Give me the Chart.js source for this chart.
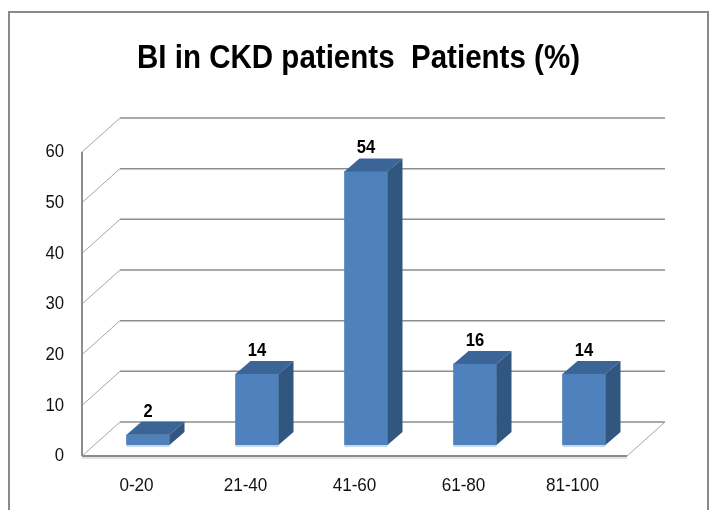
<!DOCTYPE html>
<html>
<head>
<meta charset="utf-8">
<script src="https://cdn.jsdelivr.net/npm/chart.js@4.4.0/dist/chart.umd.min.js"></script>
<style>
  html, body { margin: 0; padding: 0; background: #fff; }
  #wrap { width: 712px; height: 510px; }
</style>
</head>
<body>
<div id="wrap"><canvas id="chart" width="712" height="510"></canvas></div>
<script>
const TITLE = 'BI in CKD patients  Patients (%)';
const CATEGORIES = ['0-20', '21-40', '41-60', '61-80', '81-100'];
const PATIENTS_PCT = [2, 14, 54, 16, 14];
const Y_TICKS = [0, 10, 20, 30, 40, 50, 60];

// 3D look: front plane, back wall and bar depth as offsets from the bar plane
const FRONT = { dx: -11.5, dy: 11 };
const BACK = { dx: 26.5, dy: -23 };
const DEPTH = { dx: 15, dy: -13 };
const FONT = '"Liberation Sans", Arial, sans-serif';

function line(ctx, x1, y1, x2, y2) {
    ctx.beginPath();
    ctx.moveTo(x1, y1);
    ctx.lineTo(x2, y2);
    ctx.stroke();
}

// text squeezed horizontally, the original uses a narrow font
function text(ctx, str, x, y, sx) {
    ctx.save();
    ctx.translate(x, y);
    ctx.scale(sx, 1);
    ctx.fillText(str, 0, 0);
    ctx.restore();
}

const chart3d = {
    id: 'chart3d',
    beforeDraw(chart) {
        const ctx = chart.ctx;
        ctx.save();
        ctx.fillStyle = '#fff';
        ctx.fillRect(0, 0, chart.width, chart.height);
        ctx.strokeStyle = '#8a8a8a';
        ctx.lineWidth = 2;
        ctx.strokeRect(9, 12, 699, 600);

        // title
        ctx.font = 'bold 34px ' + FONT;
        const sx = 443 / ctx.measureText(TITLE).width;
        ctx.fillStyle = '#000';
        ctx.textAlign = 'center';
        ctx.textBaseline = 'alphabetic';
        text(ctx, TITLE, 358.5, 68, sx);
        ctx.restore();
    },
    beforeDatasetsDraw(chart) {
        const ctx = chart.ctx;
        const ca = chart.chartArea;
        const ys = chart.scales.y;
        const xs = chart.scales.x;
        const l = ca.left, r = ca.right;
        const y0 = ys.getPixelForValue(0);
        const yTop = ys.getPixelForValue(Y_TICKS[Y_TICKS.length - 1]);
        ctx.save();

        // back wall gridlines and left wall diagonals
        Y_TICKS.forEach(v => {
            const y = ys.getPixelForValue(v);
            ctx.strokeStyle = '#8c8c8c';
            ctx.lineWidth = 1.5;
            line(ctx, l + BACK.dx, y + BACK.dy, r + BACK.dx, y + BACK.dy);
            ctx.strokeStyle = '#a6a6a6';
            ctx.lineWidth = 1;
            line(ctx, l + FRONT.dx, y + FRONT.dy, l + BACK.dx, y + BACK.dy);
        });

        // floor
        ctx.strokeStyle = '#a6a6a6';
        ctx.lineWidth = 1;
        line(ctx, r + FRONT.dx, y0 + FRONT.dy, r + BACK.dx, y0 + BACK.dy);
        ctx.strokeStyle = '#c8c8c8';
        line(ctx, l + FRONT.dx, y0 + FRONT.dy + 2, r + FRONT.dx, y0 + FRONT.dy + 2);
        ctx.strokeStyle = '#8c8c8c';
        ctx.lineWidth = 2;
        line(ctx, l + FRONT.dx, y0 + FRONT.dy, r + FRONT.dx, y0 + FRONT.dy);
        // front value axis
        line(ctx, l + FRONT.dx, yTop + FRONT.dy, l + FRONT.dx, y0 + FRONT.dy);

        // tick labels
        ctx.fillStyle = '#111';
        ctx.font = '19px ' + FONT;
        ctx.textAlign = 'right';
        ctx.textBaseline = 'middle';
        Y_TICKS.forEach(v => {
            text(ctx, String(v), l + FRONT.dx - 18, ys.getPixelForValue(v) + FRONT.dy, 0.88);
        });
        ctx.textAlign = 'center';
        CATEGORIES.forEach((c, i) => {
            text(ctx, c, xs.getPixelForValue(i) + FRONT.dx, y0 + FRONT.dy + 30, 0.9);
        });
        ctx.restore();
    },
    afterDatasetsDraw(chart) {
        const ctx = chart.ctx;
        const meta = chart.getDatasetMeta(0);
        ctx.save();
        meta.data.forEach((bar, i) => {
            const p = bar.getProps(['x', 'y', 'base', 'width'], true);
            const bl = p.x - p.width / 2, br = p.x + p.width / 2;
            // top
            ctx.fillStyle = '#3c6597';
            ctx.beginPath();
            ctx.moveTo(bl, p.y);
            ctx.lineTo(br, p.y);
            ctx.lineTo(br + DEPTH.dx, p.y + DEPTH.dy);
            ctx.lineTo(bl + DEPTH.dx, p.y + DEPTH.dy);
            ctx.closePath();
            ctx.fill();
            // side
            ctx.fillStyle = '#31567f';
            ctx.beginPath();
            ctx.moveTo(br, p.y);
            ctx.lineTo(br + DEPTH.dx, p.y + DEPTH.dy);
            ctx.lineTo(br + DEPTH.dx, p.base + DEPTH.dy);
            ctx.lineTo(br, p.base);
            ctx.closePath();
            ctx.fill();
            // light bottom edge
            ctx.fillStyle = '#c6d7ee';
            ctx.fillRect(bl, p.base, p.width, 2);
            // value label
            ctx.fillStyle = '#000';
            ctx.font = 'bold 18px ' + FONT;
            ctx.textAlign = 'center';
            ctx.textBaseline = 'alphabetic';
            text(ctx, String(PATIENTS_PCT[i]), p.x, p.y + DEPTH.dy - 5, 0.92);
        });
        ctx.restore();
    }
};

new Chart(document.getElementById('chart'), {
    type: 'bar',
    data: {
        labels: CATEGORIES,
        datasets: [{
            label: 'Patients (%)',
            data: PATIENTS_PCT,
            backgroundColor: '#4f81bd',
            borderWidth: 0,
            barThickness: 43
        }]
    },
    options: {
        responsive: false,
        animation: false,
        devicePixelRatio: 1,
        layout: { padding: { left: 93.5, right: 73.5, top: 141, bottom: 65 } },
        scales: {
            x: { display: false, offset: true },
            y: { display: false, min: 0, max: 60 }
        },
        plugins: {
            legend: { display: false },
            title: { display: false },
            tooltip: { enabled: false }
        }
    },
    plugins: [chart3d]
});
</script>
</body>
</html>
